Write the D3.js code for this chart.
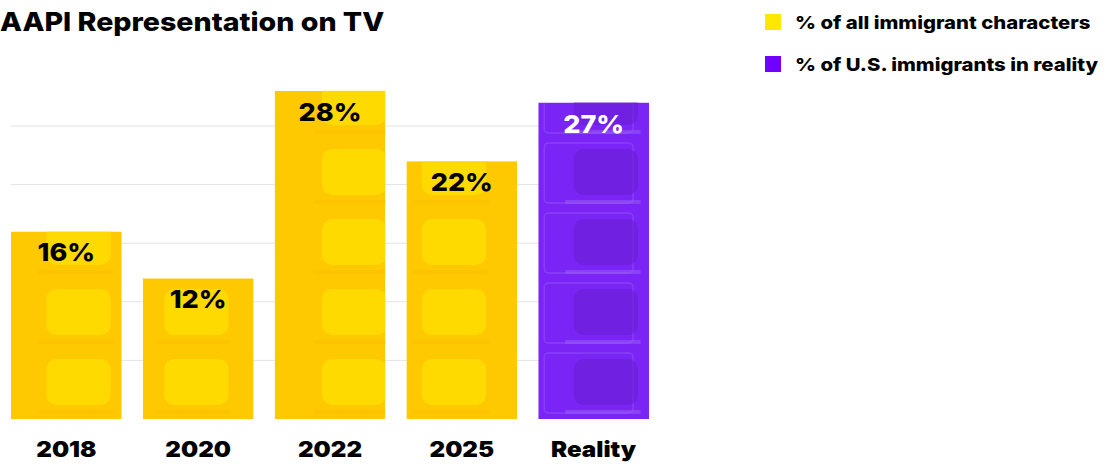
<!DOCTYPE html>
<html><head><meta charset="utf-8">
<script src="https://cdn.jsdelivr.net/npm/d3@7"></script>
<style>
html,body{margin:0;padding:0;background:#fff;}
text{font-family:Inter,"Noto Sans",sans-serif;}
</style></head>
<body>
<svg id="c" width="1120" height="464"></svg>
<script>
const categories = ["2018","2020","2022","2025","Reality"];
const values = [16,12,28,22,27];
const seriesType = ["tv","tv","tv","tv","reality"];
const gridTicks = [5,10,15,20,25];
const legendLabels = ["% of all immigrant characters","% of U.S. immigrants in reality"];
const title = "AAPI Representation on TV";

const colors = {tv:"#FFC900", reality:"#7A24F6"};
const screen = {tv:"#FFE300", reality:"#6A1ED4"};
const frame = {tv:"#F7BE00", reality:"#9A62F2"};
const legendColors = ["#FFE800","#7000FF"];

const svg = d3.select("#c");
const x = d3.scaleBand().domain(categories).range([11,649]).paddingInner(0.16).paddingOuter(0);
const y = d3.scaleLinear().domain([0,30]).range([419,67.4]);

function stretch(sel, f){
  sel.each(function(){
    const w = this.getComputedTextLength();
    d3.select(this).attr("textLength", w*f).attr("lengthAdjust","spacingAndGlyphs");
  });
}

// title
svg.append("text").attr("x",0).attr("y",31).attr("font-size",26).attr("font-weight",800)
  .attr("fill","#000").text(title).call(stretch,1.1);

// grid
svg.append("g").selectAll("line").data(gridTicks).join("line")
  .attr("x1",11).attr("x2",649).attr("y1",d=>y(d)).attr("y2",d=>y(d))
  .attr("stroke","#e3e3e3").attr("stroke-width",1);

const defs = svg.append("defs");
const data = categories.map((c,i)=>({c, v:values[i], t:seriesType[i], i}));
data.forEach(d=>{
  defs.append("clipPath").attr("id","clip"+d.i).append("rect")
    .attr("x",x(d.c)).attr("y",y(d.v)).attr("width",x.bandwidth()).attr("height",y(0)-y(d.v));
});

const bars = svg.append("g").selectAll("g").data(data).join("g")
  .attr("clip-path",d=>`url(#clip${d.i})`);
bars.append("rect")
  .attr("x",d=>x(d.c)).attr("y",d=>y(d.v)).attr("width",x.bandwidth()).attr("height",d=>y(0)-y(d.v))
  .attr("fill",d=>colors[d.t]);
// faint stacked TV sets from the baseline up
bars.each(function(d){
  const g = d3.select(this);
  const bw = x.bandwidth();
  const x0 = x(d.c);
  const unit = 70;
  const n = Math.ceil((y(0)-y(d.v))/unit)+1;
  const off = [0,-14,12,-20,0][d.i];
  for(let k=0;k<n;k++){
    const yb = y(0) - k*unit;
    if(d.t==="reality"){
      g.append("rect").attr("x",x0+6).attr("y",yb-unit+4).attr("width",bw-22).attr("height",unit-10)
        .attr("rx",4).attr("fill","none").attr("stroke",frame[d.t]).attr("stroke-width",1.5).attr("opacity",0.45);
    }
    g.append("rect").attr("x",x0+bw*0.32+off).attr("y",yb-unit+10).attr("width",bw*0.58).attr("height",unit-24)
      .attr("rx",10).attr("fill",screen[d.t]).attr("opacity",0.65);
    g.append("rect").attr("x",x0+bw*0.28+off-4).attr("y",yb-9).attr("width",bw*0.68).attr("height",4)
      .attr("fill",frame[d.t]).attr("opacity",0.5);
  }
});

// value labels
svg.append("g").selectAll("text").data(data).join("text")
  .attr("x",d=>x(d.c)+x.bandwidth()/2).attr("y",d=>y(d.v)+30)
  .attr("text-anchor","middle").attr("font-size",25).attr("font-weight",800)
  .attr("fill",d=>d.t==="tv"?"#000":"#fff").text(d=>d.v+"%").call(stretch,1.08);

// x axis labels
const xAxis = d3.axisBottom(x).tickSize(0).tickPadding(0);
const ax = svg.append("g").attr("transform","translate(0,457)").call(xAxis);
ax.select(".domain").remove();
ax.selectAll("text").attr("font-size",22).attr("font-weight",900).attr("fill","#000")
  .attr("font-family","Inter,'Noto Sans',sans-serif").attr("dy",0).attr("y",0).call(stretch,1.1);

// legend
const lg = svg.append("g").selectAll("g").data(legendLabels).join("g")
  .attr("transform",(d,i)=>`translate(765,${14+i*42})`);
lg.append("rect").attr("width",16).attr("height",16).attr("fill",(d,i)=>legendColors[i]);
lg.append("text").attr("x",30).attr("y",15).attr("font-size",18).attr("font-weight",800)
  .attr("fill","#000").text(d=>d).call(stretch,1.13);
</script>
</body></html>
